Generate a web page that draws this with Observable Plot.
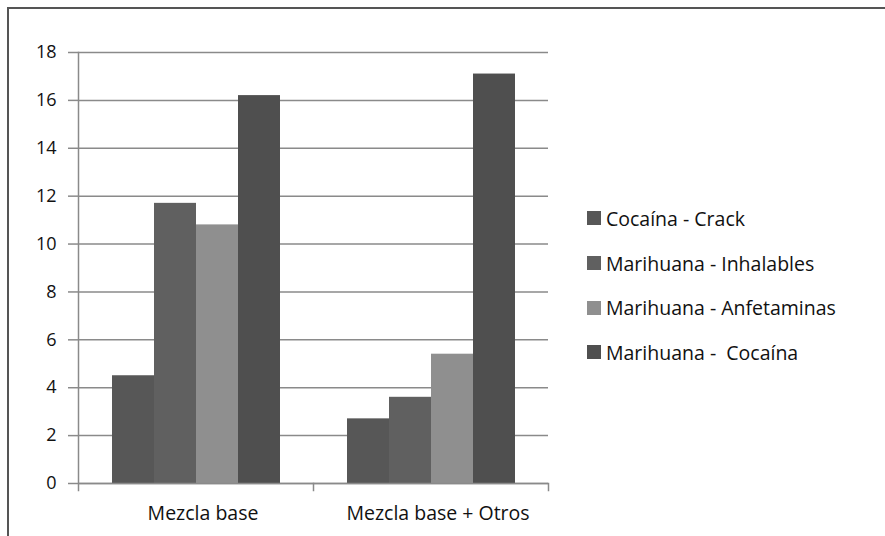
<!DOCTYPE html>
<html>
<head>
<meta charset="utf-8">
<script src="https://cdn.jsdelivr.net/npm/d3@7"></script>
<script src="https://cdn.jsdelivr.net/npm/@observablehq/plot@0.6"></script>
<style>
  html, body { margin: 0; padding: 0; background: #fff; }
  #wrap { position: relative; width: 885px; height: 536px; overflow: hidden; font-family: "Open Sans", sans-serif; color: #111; }
  #border { position: absolute; left: 7px; top: 7px; right: -10px; bottom: -10px; border-left: 2px solid #555; border-top: 2px solid #555; pointer-events: none; }
  #legend { position: absolute; left: 587px; top: 196px; font-size: 19.5px; }
  .item { display: flex; align-items: center; height: 44.7px; white-space: pre; }
  .sw { width: 14px; height: 14px; margin-right: 5px; flex: none; }
  svg { position: absolute; left: 0; top: 0; }
</style>
</head>
<body>
<div id="wrap"><div id="border"></div><div id="legend"></div></div>
<script>
const groups = ["Mezcla base", "Mezcla base + Otros"];
const series = ["Cocaína - Crack", "Marihuana - Inhalables", "Marihuana - Anfetaminas", "Marihuana -  Cocaína"];
const valuesBase = [4.5, 11.7, 10.8, 16.2];
const valuesOtros = [2.7, 3.6, 5.4, 17.1];
const colors = ["#575757", "#606060", "#8f8f8f", "#4f4f4f"];
const yTicks = [0, 2, 4, 6, 8, 10, 12, 14, 16, 18];

const data = [];
series.forEach((s, i) => {
  data.push({group: groups[0], series: s, value: valuesBase[i]});
  data.push({group: groups[1], series: s, value: valuesOtros[i]});
});

const gridColor = "#8a8a8a";
const H = 536, mTop = 52, mBottom = 53;

const chart = Plot.plot({
  width: 885,
  height: H,
  marginLeft: 78,
  marginRight: 337,
  marginTop: mTop,
  marginBottom: mBottom,
  style: {fontFamily: "'Open Sans', sans-serif", fontSize: "18px", color: "#111", background: "transparent"},
  fx: {domain: groups, padding: 0, label: null},
  x: {domain: series, paddingInner: 0, paddingOuter: 0.75, axis: null},
  y: {domain: [0, 18], label: null},
  color: {domain: series, range: colors},
  marks: [
    Plot.gridY(yTicks, {stroke: gridColor, strokeOpacity: 1, strokeWidth: 1.5}),
    Plot.barY(data, {fx: "group", x: "series", y: "value", fill: "series"}),
    Plot.ruleY([0], {stroke: gridColor, strokeWidth: 1.5}),
    Plot.frame({anchor: "left", facetAnchor: "left", stroke: gridColor, strokeWidth: 1.5, insetBottom: -7}),
    Plot.frame({anchor: "right", stroke: gridColor, strokeWidth: 1.5, insetTop: H - mTop - mBottom, insetBottom: -7}),
    Plot.axisY(yTicks, {tickSize: 10, tickPadding: 12, stroke: gridColor, strokeWidth: 1.5, fontSize: 18, fill: "#111", label: null}),
    Plot.axisFx({anchor: "bottom", tickSize: 0, tickPadding: 23, dx: 7, fontSize: 19.5, fill: "#111", label: null})
  ]
});
document.getElementById("wrap").insertBefore(chart, document.getElementById("border"));

const legend = document.getElementById("legend");
series.forEach((s, i) => {
  const row = document.createElement("div");
  row.className = "item";
  const sw = document.createElement("span");
  sw.className = "sw";
  sw.style.background = colors[i];
  const t = document.createElement("span");
  t.textContent = s;
  row.appendChild(sw);
  row.appendChild(t);
  legend.appendChild(row);
});
</script>
</body>
</html>
